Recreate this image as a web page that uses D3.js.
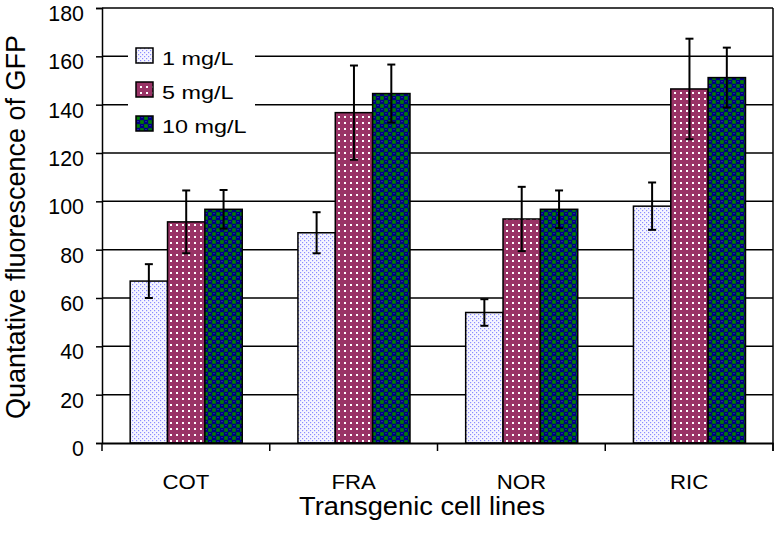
<!DOCTYPE html>
<html><head><meta charset="utf-8">
<script src="https://cdn.jsdelivr.net/npm/d3@7"></script>
<style>html,body{margin:0;padding:0;background:#fff;} svg{display:block;font-family:"Liberation Sans",Arial,sans-serif;}</style>
</head><body>
<script>
const categories = ["COT", "FRA", "NOR", "RIC"];
const seriesNames = ["1 mg/L", "5 mg/L", "10 mg/L"];
const values1 = [67, 87, 54, 98];
const errors1 = [7, 8.5, 5.5, 9.8];
const values5 = [91.5, 136.7, 92.7, 146.5];
const errors5 = [13, 19.5, 13.3, 20.8];
const values10 = [96.7, 144.6, 96.7, 151.2];
const errors10 = [8, 12, 7.8, 12.4];
const yTicks = [0, 20, 40, 60, 80, 100, 120, 140, 160, 180];
const yTitle = "Quantative fluorescence of GFP";
const xTitle = "Transgenic cell lines";

const W = 776, H = 535;
const L = 102, R = 773, T = 8, B = 443;
const svg = d3.select("body").append("svg").attr("width", W).attr("height", H);

// patterns
const defs = svg.append("defs");
const p1 = defs.append("pattern").attr("id", "pat1").attr("patternUnits", "userSpaceOnUse").attr("width", 4).attr("height", 4);
p1.append("rect").attr("width", 4).attr("height", 4).attr("fill", "#f6f6ff");
p1.append("rect").attr("x", 0).attr("y", 0).attr("width", 1.2).attr("height", 1.2).attr("fill", "#8c8cff");
p1.append("rect").attr("x", 2).attr("y", 2).attr("width", 1.2).attr("height", 1.2).attr("fill", "#8c8cff");

const p2 = defs.append("pattern").attr("id", "pat2").attr("patternUnits", "userSpaceOnUse").attr("width", 6).attr("height", 6);
p2.append("rect").attr("width", 6).attr("height", 6).attr("fill", "#993366");
p2.append("rect").attr("x", 2).attr("y", 2).attr("width", 2).attr("height", 2).attr("fill", "#ffffff");

const p3 = defs.append("pattern").attr("id", "pat3").attr("patternUnits", "userSpaceOnUse").attr("width", 8).attr("height", 8);
p3.append("rect").attr("width", 8).attr("height", 8).attr("fill", "#000080");
p3.append("rect").attr("x", 0.2).attr("y", 4.2).attr("width", 3.6).attr("height", 3.6).attr("fill", "#008000");
p3.append("rect").attr("x", 4.2).attr("y", 0.2).attr("width", 3.6).attr("height", 3.6).attr("fill", "#008000");
p3.append("rect").attr("x", 1).attr("y", 1.2).attr("width", 2).attr("height", 0.8).attr("fill", "#2a2aa8");
p3.append("rect").attr("x", 5).attr("y", 5.2).attr("width", 2).attr("height", 0.8).attr("fill", "#2a2aa8");
const fills = ["url(#pat1)", "url(#pat2)", "url(#pat3)"];

const y = d3.scaleLinear().domain([0, 180]).range([B, T]);
const x0 = d3.scaleBand().domain(categories).range([L, R]).padding(0);
const bw = x0.bandwidth();
const x1 = d3.scaleBand().domain(seriesNames).range([bw * 0.168, bw * 0.836]).padding(0);

// gridlines
svg.append("g").selectAll("line").data(yTicks.filter(d => d > 0)).join("line")
  .attr("x1", L).attr("x2", R).attr("y1", d => y(d)).attr("y2", d => y(d))
  .attr("stroke", "#000").attr("stroke-width", 1.5);

// right border
svg.append("line").attr("x1", R).attr("x2", R).attr("y1", y(180)).attr("y2", B + 8).attr("stroke", "#000").attr("stroke-width", 1.5);

// bars
const data = [];
categories.forEach((c, i) => {
  data.push({c, s: seriesNames[0], v: values1[i], e: errors1[i], k: 0});
  data.push({c, s: seriesNames[1], v: values5[i], e: errors5[i], k: 1});
  data.push({c, s: seriesNames[2], v: values10[i], e: errors10[i], k: 2});
});
const bars = svg.append("g");
bars.selectAll("rect").data(data).join("rect")
  .attr("x", d => x0(d.c) + x1(d.s))
  .attr("y", d => y(d.v))
  .attr("width", x1.bandwidth())
  .attr("height", d => B - y(d.v))
  .attr("fill", d => fills[d.k])
  .attr("stroke", "#000").attr("stroke-width", 1.5);

// error bars
const eb = svg.append("g").attr("stroke", "#000").attr("stroke-width", 2);
data.forEach(d => {
  const cx = x0(d.c) + x1(d.s) + x1.bandwidth() / 2;
  eb.append("line").attr("x1", cx).attr("x2", cx).attr("y1", y(d.v + d.e)).attr("y2", y(d.v - d.e));
  eb.append("line").attr("x1", cx - 4).attr("x2", cx + 4).attr("y1", y(d.v + d.e)).attr("y2", y(d.v + d.e));
  eb.append("line").attr("x1", cx - 4).attr("x2", cx + 4).attr("y1", y(d.v - d.e)).attr("y2", y(d.v - d.e));
});

// y axis
const ya = svg.append("g").attr("transform", `translate(${L},0)`)
  .call(d3.axisLeft(y).tickValues(yTicks).tickSize(6).tickFormat(d3.format("d")));
ya.attr("font-size", 23).attr("font-family", "'Liberation Sans', Arial, sans-serif");
ya.select(".domain").attr("stroke", "#000").attr("stroke-width", 1.5);
ya.selectAll(".tick line").attr("stroke", "#000").attr("stroke-width", 1.5);
ya.selectAll(".tick text").attr("x", 0).attr("dy", null).attr("y", 0)
  .style("font-size", "23px").attr("fill", "#000").attr("text-anchor", "end")
  .attr("transform", "translate(-18,12.5) scale(0.93,1)");

// x axis
const xa = svg.append("g").attr("transform", `translate(0,${B})`)
  .call(d3.axisBottom(x0).tickSize(0).tickSizeOuter(0));
xa.attr("font-family", "'Liberation Sans', Arial, sans-serif");
xa.select(".domain").attr("stroke", "#000").attr("stroke-width", 2);
xa.selectAll(".tick text").attr("y", 0).attr("dy", null)
  .style("font-size", "19.5px").attr("fill", "#000")
  .attr("transform", "translate(0,46) scale(1.14,1)");
// boundary ticks
const bounds = categories.map(c => x0(c)).concat([R]);
svg.append("g").selectAll("line").data(bounds).join("line")
  .attr("x1", d => d).attr("x2", d => d).attr("y1", B).attr("y2", B + 8)
  .attr("stroke", "#000").attr("stroke-width", 1.5);

// titles
svg.append("text").attr("transform", "translate(422,515) scale(1.07,1)")
  .attr("text-anchor", "middle").attr("font-size", 25.5).attr("fill", "#000").text(xTitle);
svg.append("text").attr("transform", "translate(25,227) rotate(-90)")
  .attr("text-anchor", "middle").attr("font-size", 27).attr("fill", "#000").text(yTitle);

// legend
const lg = svg.append("g");
lg.append("rect").attr("x", 128).attr("y", 38).attr("width", 127).attr("height", 102).attr("fill", "#fff");
seriesNames.forEach((s, i) => {
  const cy = 55.5 + i * 34;
  lg.append("rect").attr("x", 136).attr("y", cy - 7.5).attr("width", 17).attr("height", 15)
    .attr("fill", fills[i]).attr("stroke", "#000").attr("stroke-width", 1.5);
  lg.append("text").attr("transform", `translate(162,${cy + 9}) scale(1.23,1)`)
    .attr("font-size", 19).attr("fill", "#000").text(s);
});
</script>
</body></html>
